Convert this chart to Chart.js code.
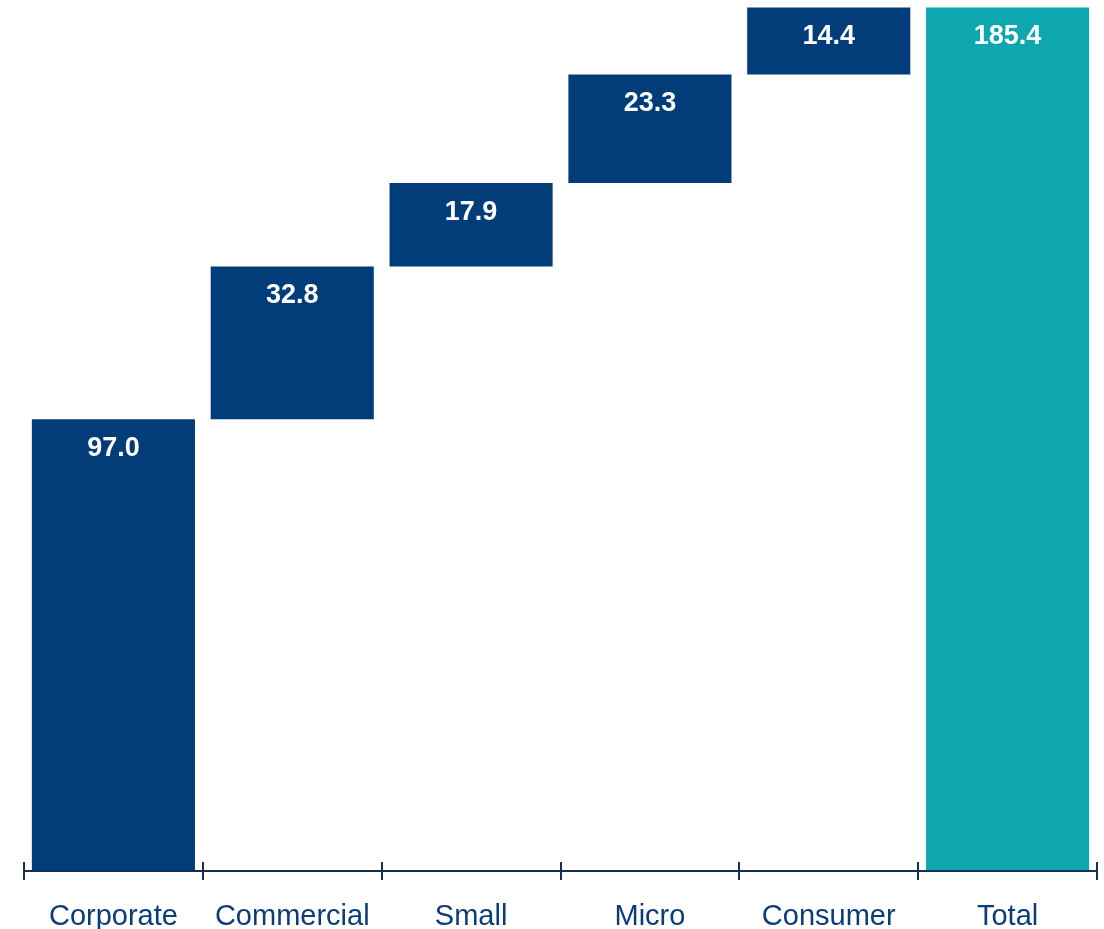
<!DOCTYPE html>
<html>
<head>
<meta charset="utf-8">
<title>Loan portfolio</title>
<script src="https://cdn.jsdelivr.net/npm/chart.js@4.4.1/dist/chart.umd.min.js"></script>
<style>
  html, body { margin: 0; padding: 0; background: #ffffff; }
  #wrap { position: relative; width: 1104px; height: 929px; }
</style>
</head>
<body>
<div id="wrap"><canvas id="waterfall"></canvas></div>
<script>
  'use strict'

  // segments in order, the last one is the total
  var categories = ['Corporate', 'Commercial', 'Small', 'Micro', 'Consumer', 'Total']
  var values = [97.0, 32.8, 17.9, 23.3, 14.4, 185.4]
  var isTotal = [false, false, false, false, false, true]

  var BLUE = '#033d79'
  var TEAL = '#0ea7b0'
  var AXIS = '#18304f'
  var LABEL = '#0b3d78'

  // build floating [from, to] ranges from the running sum
  var ranges = []
  var running = 0
  values.forEach(function (v, i) {
    if (isTotal[i]) {
      ranges.push([0, v])
    } else {
      ranges.push([running, running + v])
      running += v
    }
  })

  // tick marks crossing the axis line at the category edges
  var axisTicks = {
    id: 'axisTicks',
    afterDraw: function (chart) {
      var x = chart.scales.x
      var y0 = chart.chartArea.bottom
      var ctx = chart.ctx
      var step = (x.right - x.left) / categories.length
      ctx.save()
      ctx.strokeStyle = AXIS
      ctx.lineWidth = 2
      ctx.beginPath()
      ctx.moveTo(x.left, y0)
      ctx.lineTo(x.right, y0)
      for (var i = 0; i <= categories.length; i++) {
        var px = Math.round(x.left + i * step)
        ctx.moveTo(px, y0 - 9)
        ctx.lineTo(px, y0 + 9)
      }
      ctx.stroke()
      ctx.restore()
    }
  }

  // value labels inside the top of each bar
  var barValues = {
    id: 'barValues',
    afterDatasetsDraw: function (chart) {
      var ctx = chart.ctx
      var meta = chart.getDatasetMeta(0)
      ctx.save()
      ctx.fillStyle = '#ffffff'
      ctx.font = 'bold 27px "Liberation Sans", Arial, sans-serif'
      ctx.textAlign = 'center'
      ctx.textBaseline = 'middle'
      meta.data.forEach(function (bar, i) {
        ctx.fillText(values[i].toFixed(1), bar.x, bar.y + 29)
      })
      ctx.restore()
    }
  }

  var ctx = document.getElementById('waterfall').getContext('2d')
  // eslint-disable-next-line no-unused-vars
  var chart = new Chart(ctx, {
    type: 'bar',
    data: {
      labels: categories,
      datasets: [{
        data: ranges,
        backgroundColor: isTotal.map(function (t) { return t ? TEAL : BLUE }),
        borderWidth: 0,
        barPercentage: 0.912,
        categoryPercentage: 1
      }]
    },
    options: {
      responsive: true,
      maintainAspectRatio: false,
      animation: false,
      layout: { padding: { left: 24, right: 7, top: 0, bottom: 0 } },
      plugins: {
        legend: { display: false },
        tooltip: { enabled: false }
      },
      scales: {
        y: {
          display: false,
          min: 0,
          max: 187
        },
        x: {
          grid: { display: false },
          border: { display: false },
          ticks: {
            color: LABEL,
            font: { family: '"Liberation Sans", Arial, sans-serif', size: 29 },
            padding: 21,
            maxRotation: 0,
            autoSkip: false
          },
          afterFit: function (scale) { scale.height = 58 }
        }
      }
    },
    plugins: [axisTicks, barValues]
  })
</script>
</body>
</html>
